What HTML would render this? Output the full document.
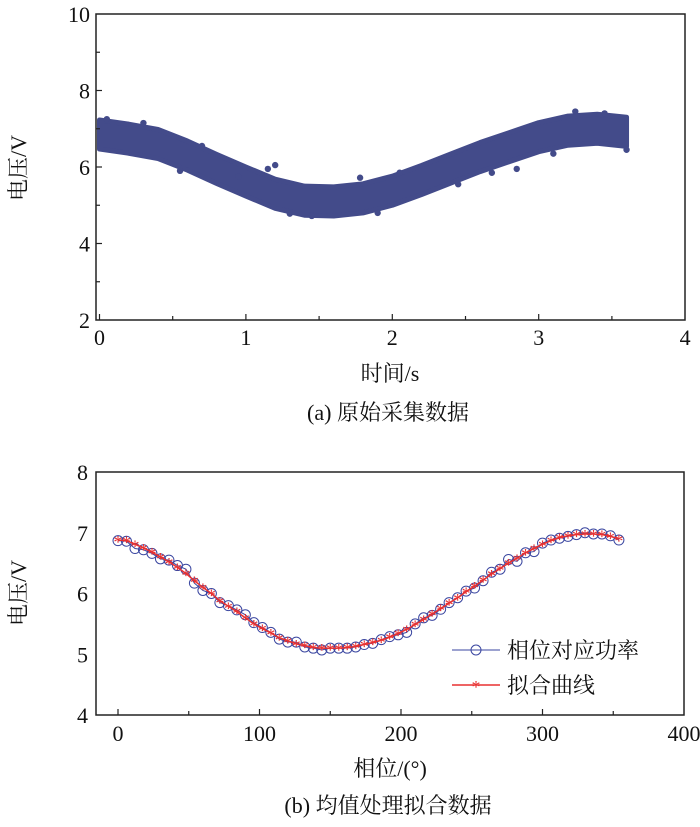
<!DOCTYPE html>
<html><head><meta charset="utf-8"><style>
html,body{margin:0;padding:0;background:#fff;}
svg{display:block;font-family:"Liberation Serif","Noto Serif CJK SC",serif;}
</style></head><body>
<svg id="c" width="700" height="827" viewBox="0 0 700 827"></svg>
<script>
// Chart (a) data
const tCenters=[0,0.2,0.4,0.6,0.8,1.0,1.2,1.4,1.6,1.8,2.0,2.2,2.4,2.6,2.8,3.0,3.2,3.4,3.6];
const vCenters=[6.85,6.74,6.6,6.3,5.95,5.62,5.3,5.12,5.1,5.18,5.38,5.66,5.96,6.26,6.52,6.78,6.95,7.0,6.92];
const bandHalf=0.38;
const outT=[0.95,1.15,1.2,0.7,3.25,1.78,2.68,3.6,2.05,0.05,0.3,0.55,1.3,1.45,1.9,2.45,2.85,3.1,3.45];
const outV=[5.75,5.95,6.05,6.55,7.45,5.72,5.85,6.45,5.85,7.25,7.15,5.9,4.78,4.72,4.8,5.55,5.95,6.35,7.4];
const aXTicks=[0,1,2,3,4];
const aYTicks=[2,4,6,8,10];
// Chart (b) data
const phase=[0,6,12,18,24,30,36,42,48,54,60,66,72,78,84,90,96,102,108,114,120,126,132,138,144,150,156,162,168,174,180,186,192,198,204,210,216,222,228,234,240,246,252,258,264,270,276,282,288,294,300,306,312,318,324,330,336,342,348,354];
const fitV=[6.88,6.87,6.81,6.75,6.68,6.6,6.52,6.43,6.33,6.21,6.1,6.0,5.88,5.79,5.7,5.6,5.5,5.42,5.35,5.27,5.22,5.17,5.14,5.11,5.1,5.1,5.1,5.11,5.13,5.16,5.19,5.23,5.28,5.34,5.41,5.49,5.57,5.66,5.75,5.84,5.93,6.03,6.12,6.22,6.32,6.41,6.5,6.58,6.67,6.74,6.81,6.87,6.92,6.95,6.97,6.98,6.98,6.97,6.94,6.9];
const circV=[6.87,6.86,6.74,6.72,6.66,6.57,6.55,6.46,6.4,6.17,6.05,6.0,5.85,5.8,5.73,5.65,5.52,5.44,5.36,5.25,5.2,5.2,5.12,5.1,5.07,5.1,5.1,5.1,5.12,5.16,5.18,5.24,5.29,5.32,5.36,5.5,5.6,5.64,5.74,5.85,5.93,6.04,6.09,6.21,6.35,6.4,6.56,6.53,6.67,6.69,6.83,6.88,6.91,6.94,6.97,7.0,6.98,6.98,6.95,6.88];
const bXTicks=[0,100,200,300,400];
const bYTicks=[4,5,6,7,8];

const NS='http://www.w3.org/2000/svg';
const svg=document.getElementById('c');
function mk(tag,attrs,parent){const e=document.createElementNS(NS,tag);for(const k in attrs)e.setAttribute(k,attrs[k]);(parent||svg).appendChild(e);return e;}
function txt(s,x,y,size,anchor,parent){const e=mk('text',{x:x,y:y,'font-size':size,'text-anchor':anchor||'middle',fill:'#111'},parent);e.textContent=s;return e;}

// ---------- Chart (a)
const A={l:96,r:685,t:14,b:320};
const ax=t=>99.5+t*146.4;
const ay=v=>A.t+(10-v)*(A.b-A.t)/8;
const ga=mk('g',{});


let d='';
tCenters.forEach((t,i)=>{d+=(i?'L':'M')+ax(t)+','+ay(vCenters[i]+bandHalf);});
for(let i=tCenters.length-1;i>=0;i--){d+='L'+ax(tCenters[i])+','+ay(vCenters[i]-bandHalf);}
d+='Z';
const band=mk('path',{d:d,fill:'#434b8a',stroke:'#434b8a','stroke-width':5,'stroke-linejoin':'round'},ga);


outT.forEach((t,i)=>{const c=mk('circle',{cx:ax(t),cy:ay(outV[i]),r:3.2,fill:'#434b8a'},ga);

});
mk('rect',{x:A.l,y:A.t,width:A.r-A.l,height:A.b-A.t,fill:'none',stroke:'#222','stroke-width':1.5},ga);
for(let t=0;t<=3.5;t+=0.5){mk('line',{x1:ax(t),x2:ax(t),y1:A.b,y2:A.b-(t%1?4:6),stroke:'#222','stroke-width':1.2},ga);}
for(let v=3;v<=9;v++){mk('line',{x1:A.l,x2:A.l+(v%2?4:6),y1:ay(v),y2:ay(v),stroke:'#222','stroke-width':1.2},ga);}
aXTicks.forEach(t=>{const e=txt(String(t),ax(t),A.b+25,22,'middle',ga);});
aYTicks.forEach(v=>{const e=txt(String(v),A.l-6,ay(v)+8,22,'end',ga);});
let e=txt('时间/s',390,381,22,'middle',ga);
e=txt('电压/V',0,0,22,'middle',ga);e.setAttribute('transform','translate(26,168) rotate(-90)');
e=txt('(a) 原始采集数据',388,420,22,'middle',ga);

// ---------- Chart (b)
const B={l:96,r:684,t:472,b:715};
const bx=p=>118+p*1.415;
const by=v=>B.t+(8-v)*(B.b-B.t)/4;
const gb=mk('g',{});


let dc='';phase.forEach((p,i)=>{dc+=(i?'L':'M')+bx(p)+','+by(circV[i]);});
const cl=mk('path',{d:dc,fill:'none',stroke:'#3a46a0','stroke-width':1},gb);


phase.forEach((p,i)=>{const c=mk('circle',{cx:bx(p),cy:by(circV[i]),r:5,fill:'none',stroke:'#3a46a0','stroke-width':1},gb);

});
let df='';phase.forEach((p,i)=>{df+=(i?'L':'M')+bx(p)+','+by(fitV[i]);});
const fl=mk('path',{d:df,fill:'none',stroke:'#e83030','stroke-width':1.5},gb);


phase.forEach((p,i)=>{const s=txt('*',bx(p),by(fitV[i])+8,18,'middle',gb);s.setAttribute('fill','#e83030');

});
mk('rect',{x:B.l,y:B.t,width:B.r-B.l,height:B.b-B.t,fill:'none',stroke:'#222','stroke-width':1.5},gb);
for(let p=0;p<=350;p+=50){mk('line',{x1:bx(p),x2:bx(p),y1:B.b,y2:B.b-(p%100?4:6),stroke:'#222','stroke-width':1.2},gb);}
bXTicks.forEach(p=>{const e=txt(String(p),bx(p),B.b+26,22,'middle',gb);});
bYTicks.forEach(v=>{const e=txt(String(v),B.l-8,by(v)+8,22,'end',gb);});
e=txt('相位/(°)',390,776,22,'middle',gb);
e=txt('电压/V',0,0,22,'middle',gb);e.setAttribute('transform','translate(26,593) rotate(-90)');
e=txt('(b) 均值处理拟合数据',388,813,22,'middle',gb);
// legend
const lg=mk('g',{},gb);


mk('line',{x1:452,x2:500,y1:650,y2:650,stroke:'#3a46a0','stroke-width':1},lg);
mk('circle',{cx:476,cy:650,r:5,fill:'none',stroke:'#3a46a0','stroke-width':1},lg);
e=txt('相位对应功率',507,658,22,'start',lg);
mk('line',{x1:452,x2:500,y1:685,y2:685,stroke:'#e83030','stroke-width':1.5},lg);
const st=txt('*',476,693,18,'middle',lg);st.setAttribute('fill','#e83030');
e=txt('拟合曲线',507,693,22,'start',lg);
</script>
</body></html>
